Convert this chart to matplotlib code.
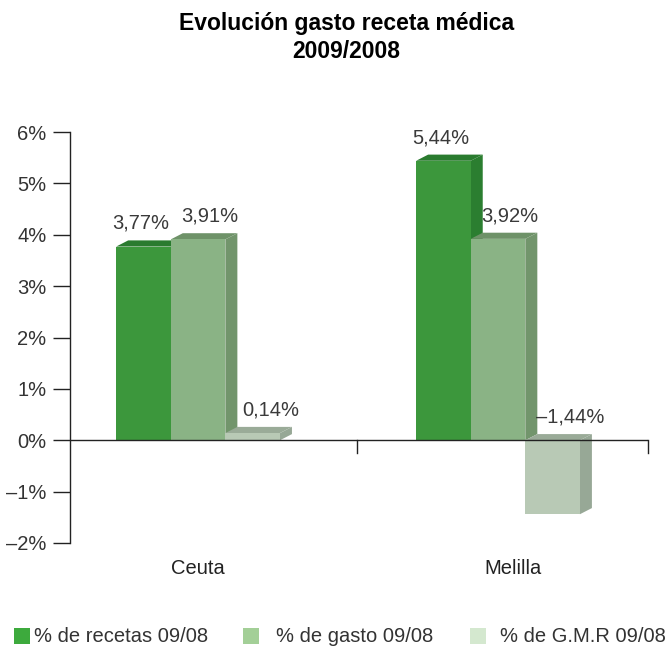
import matplotlib.pyplot as plt
from matplotlib.patches import Polygon, Rectangle

# Data
cities = ['Ceuta', 'Melilla']
recetas = [3.77, 5.44]
gasto = [3.91, 3.92]
gmr = [0.14, -1.44]
labels_recetas = ['3,77%', '5,44%']
labels_gasto = ['3,91%', '3,92%']
labels_gmr = ['0,14%', '\u20131,44%']
series_names = ['% de recetas 09/08', '% de gasto 09/08', '% de G.M.R 09/08']
yticks = [-2, -1, 0, 1, 2, 3, 4, 5, 6]
ytick_labels = ['\u20132%', '\u20131%', '0%', '1%', '2%', '3%', '4%', '5%', '6%']

# colours: front, top, side
styles = [
    ('#3c973c', '#2a7b2f', '#2b7e30'),
    ('#8ab385', '#6e9268', '#72956c'),
    ('#b8c9b5', '#9aab98', '#97a896'),
]
legend_colors = ['#3daa3d', '#a3cf97', '#d4e8cf']

plt.rcParams['font.family'] = ['Liberation Sans', 'DejaVu Sans']
FS = 14.5

fig = plt.figure(figsize=(6.72, 6.46), dpi=100)
ax = fig.add_axes([70/672, 1-543/646, 578/672, 411/646])
ax.set_xlim(-0.427, 1.5)
ax.set_ylim(-2, 6)

w = 0.182
dx = 0.04
dy = 0.12
offsets = [-w, 0, w]
lab_shift = [-0.03, 0.02, 0.04]
all_vals = [recetas, gasto, gmr]
all_labs = [labels_recetas, labels_gasto, labels_gmr]

for i in range(len(cities)):
    for s in range(3):
        v = all_vals[s][i]
        front, top, side = styles[s]
        x0 = i + offsets[s] - w/2
        lo, hi = min(0, v), max(0, v)
        ax.add_patch(Polygon([(x0+w, lo), (x0+w+dx, lo+dy), (x0+w+dx, hi+dy), (x0+w, hi)],
                             closed=True, fc=side, ec='none', zorder=2))
        ax.add_patch(Polygon([(x0, hi), (x0+w, hi), (x0+w+dx, hi+dy), (x0+dx, hi+dy)],
                             closed=True, fc=top, ec='none', zorder=2))
        ax.add_patch(Rectangle((x0, lo), w, hi-lo, fc=front, ec='none', zorder=2))
        ax.text(x0 + w/2 + dx/2 + lab_shift[s], hi + 0.45, all_labs[s][i],
                ha='center', va='center', fontsize=FS, color='#3a3a3a', zorder=4)

# axes
for sp in ['top', 'right', 'bottom']:
    ax.spines[sp].set_visible(False)
ax.spines['left'].set_color('#222222')
ax.spines['left'].set_linewidth(1)
ax.axhline(0, color='#222222', lw=1, zorder=3)
ax.set_yticks(yticks)
ax.set_yticklabels(ytick_labels, fontsize=FS, color='#333333')
ax.tick_params(axis='y', length=12, width=1, color='#222222', pad=5)
ax.set_xticks([])
for xt in [0.53, 1.5]:
    ax.plot([xt, xt], [0, -0.24], color='#222222', lw=1, clip_on=False, zorder=3)

cat_pos = [0, 1.05]
for i, c in enumerate(cities):
    ax.text(cat_pos[i], -2.5, c, ha='center', va='center', fontsize=FS, color='#222222')

fig.text(0.515, 0.964, 'Evolución gasto receta médica', ha='center', va='center',
         fontsize=16.5, fontweight='bold', color='#000000')
fig.text(0.515, 0.921, '2009/2008', ha='center', va='center',
         fontsize=16.5, fontweight='bold', color='#000000')

# legend
leg_x = [14, 243, 470]
text_x = [34, 276, 500]
for k in range(3):
    fig.patches.append(Rectangle((leg_x[k]/672, 1-644/646), 16/672, 16/646,
                                 transform=fig.transFigure, fc=legend_colors[k], ec='none'))
    fig.text(text_x[k]/672, 1-636/646, series_names[k], ha='left', va='center',
             fontsize=FS, color='#333333')

fig.savefig('out.png', dpi=100)
